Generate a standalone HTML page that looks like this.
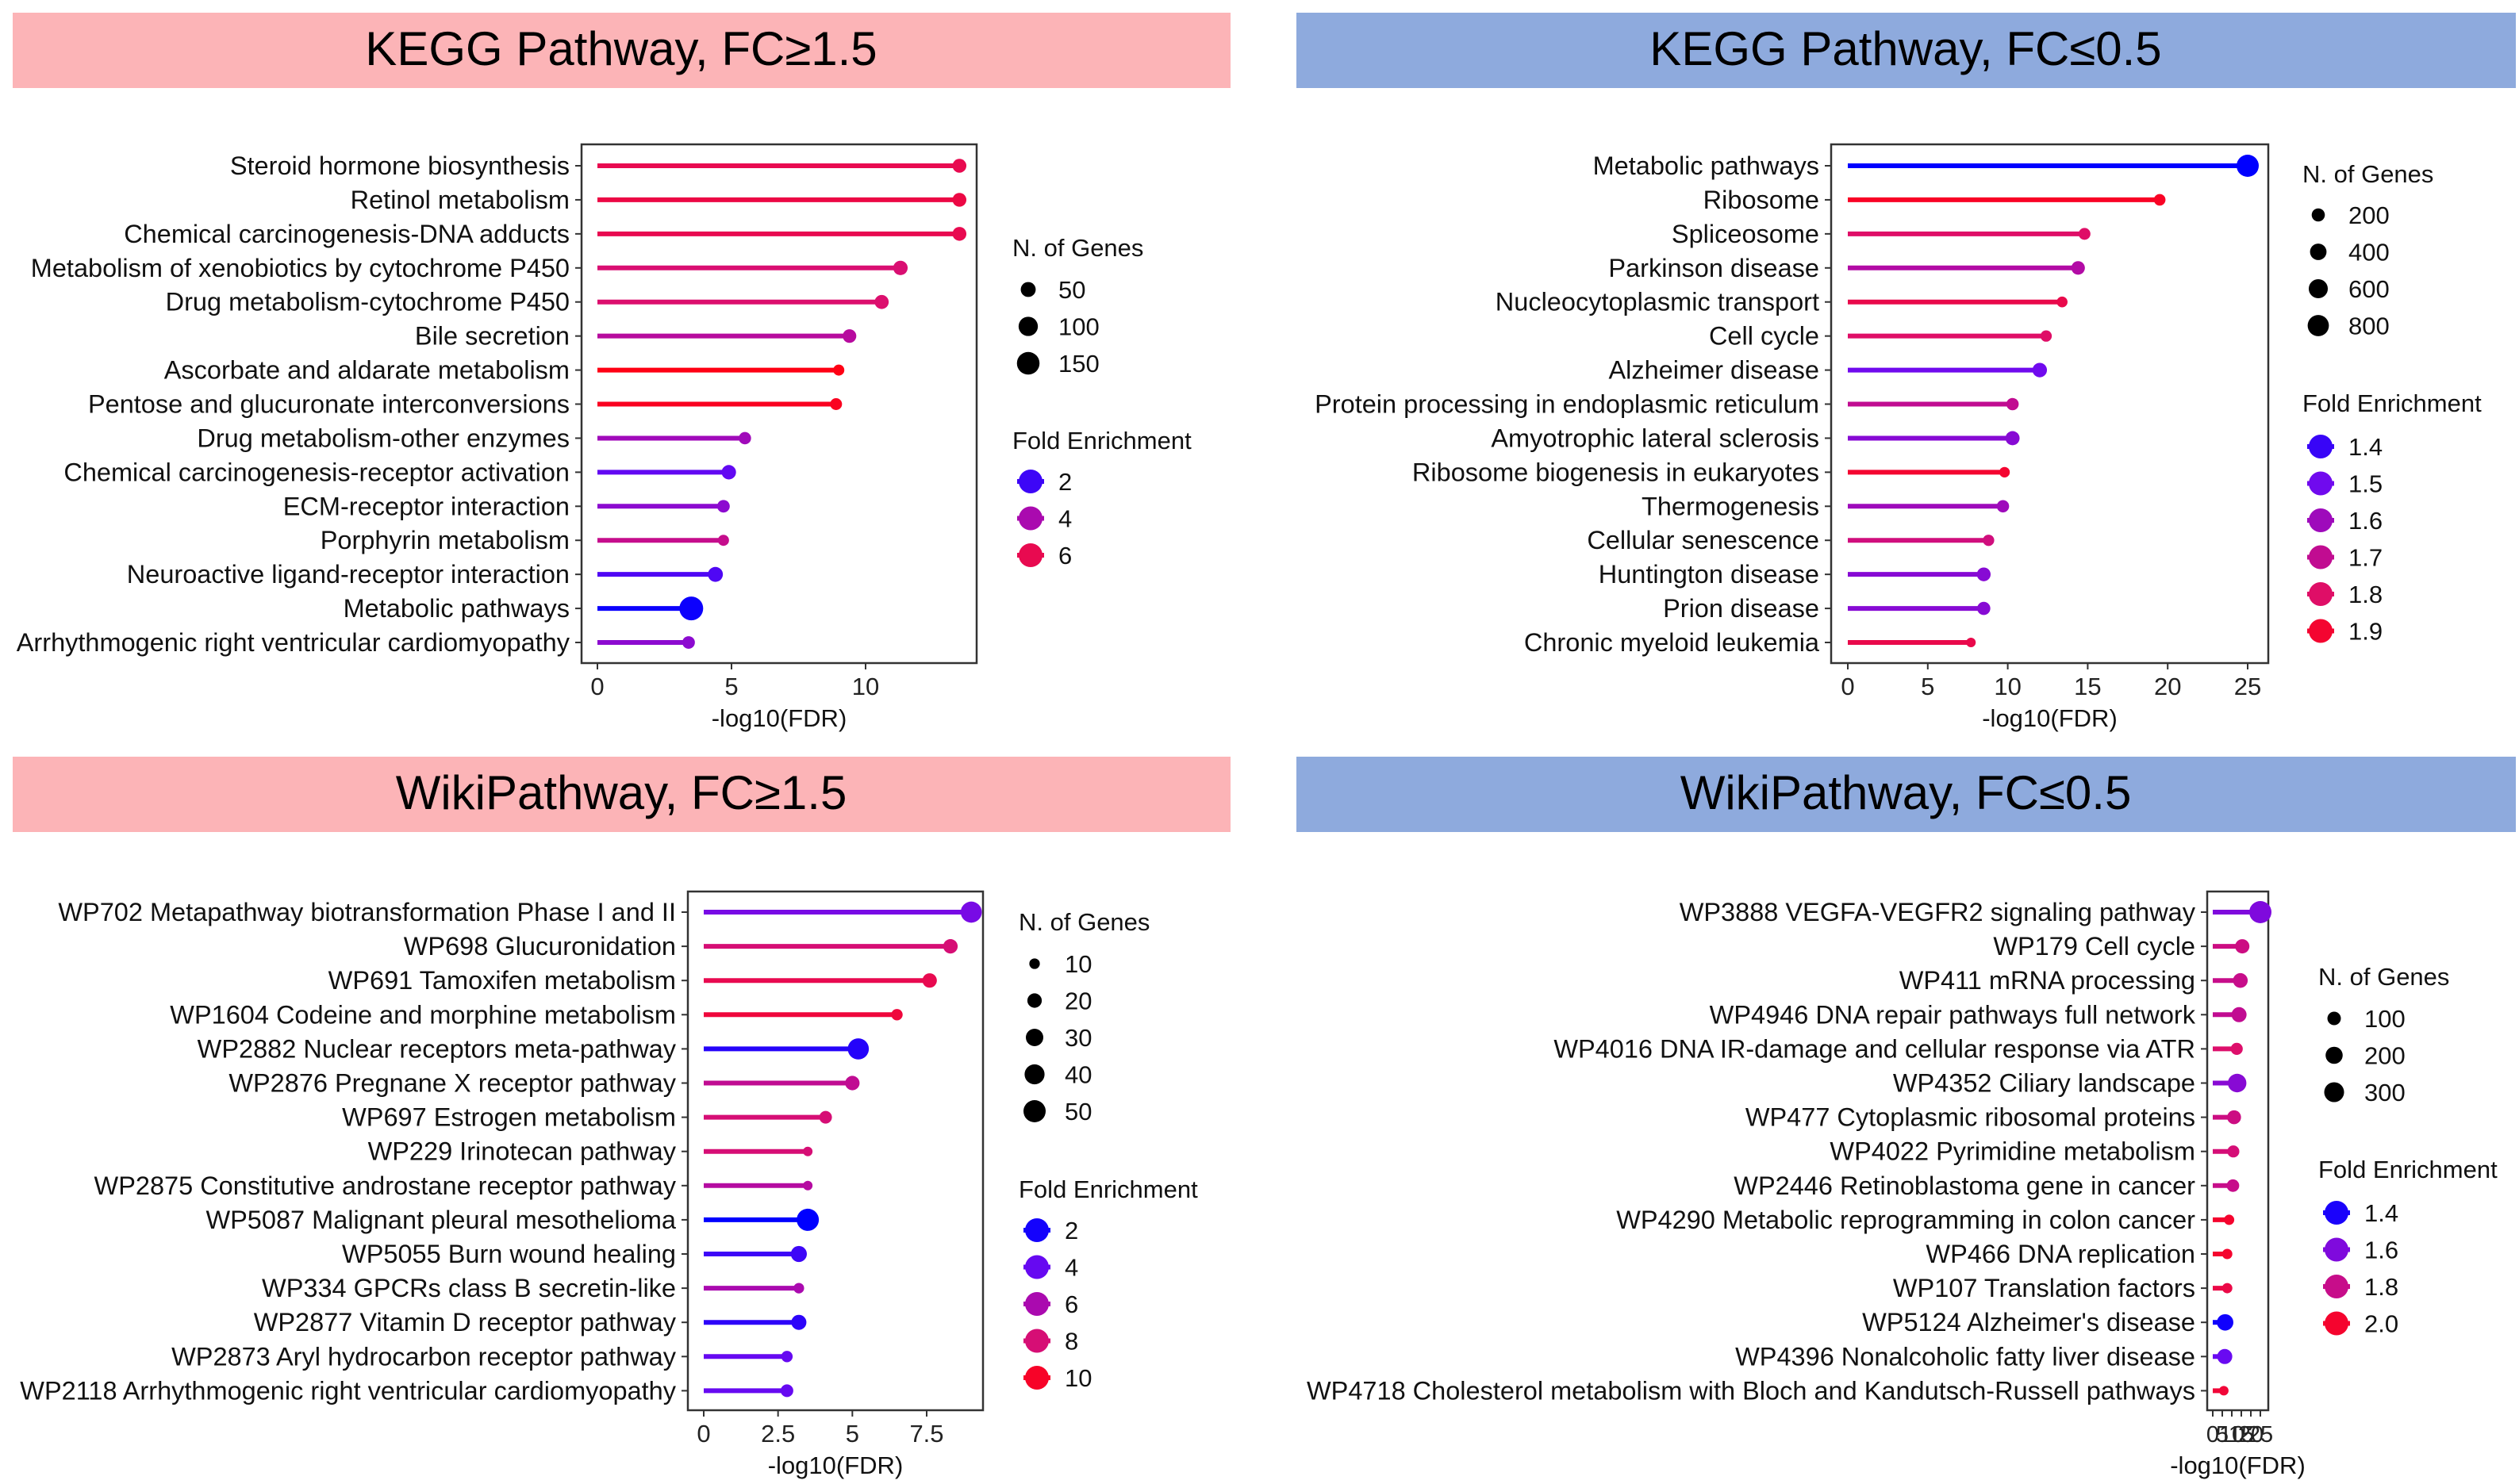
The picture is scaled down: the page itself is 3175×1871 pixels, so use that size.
<!DOCTYPE html>
<html><head><meta charset="utf-8"><style>
html,body{margin:0;padding:0;background:#fff}
svg{display:block;font-family:"Liberation Sans",Arial,sans-serif}
</style></head><body>
<svg id="fig" width="3175" height="1871" viewBox="0 0 3175 1871" xmlns="http://www.w3.org/2000/svg">
<rect x="16" y="16" width="1535" height="95" fill="#fcb4b7"/>
<text x="783" y="82" font-size="60" text-anchor="middle" fill="#000">KEGG Pathway, FC≥1.5</text>
<rect x="1634" y="16" width="1537" height="95" fill="#8eaadd"/>
<text x="2402" y="82" font-size="60" text-anchor="middle" fill="#000">KEGG Pathway, FC≤0.5</text>
<rect x="16" y="954" width="1535" height="95" fill="#fcb4b7"/>
<text x="783" y="1020" font-size="60" text-anchor="middle" fill="#000">WikiPathway, FC≥1.5</text>
<rect x="1634" y="954" width="1537" height="95" fill="#8eaadd"/>
<text x="2402" y="1020" font-size="60" text-anchor="middle" fill="#000">WikiPathway, FC≤0.5</text>
</svg>
<script>
// ---- Panel 1: KEGG up ----
const keggUpCategories = ["Steroid hormone biosynthesis","Retinol metabolism","Chemical carcinogenesis-DNA adducts","Metabolism of xenobiotics by cytochrome P450","Drug metabolism-cytochrome P450","Bile secretion","Ascorbate and aldarate metabolism","Pentose and glucuronate interconversions","Drug metabolism-other enzymes","Chemical carcinogenesis-receptor activation","ECM-receptor interaction","Porphyrin metabolism","Neuroactive ligand-receptor interaction","Metabolic pathways","Arrhythmogenic right ventricular cardiomyopathy"];
const keggUpFDR = [13.5,13.5,13.5,11.3,10.6,9.4,9.0,8.9,5.5,4.9,4.7,4.7,4.4,3.5,3.4];
const keggUpFE = [6.0,6.2,6.0,5.4,5.5,4.4,7.0,6.8,3.8,2.6,3.4,4.8,2.3,1.2,3.4];
const keggUpGenes = [40,40,40,45,42,38,20,25,28,45,30,20,50,170,30];
const keggUpTicks = [0,5,10];
const keggUpSizeLegend = [50,100,150];
const keggUpFELegend = [2,4,6];
// ---- Panel 2: KEGG down ----
const keggDownCategories = ["Metabolic pathways","Ribosome","Spliceosome","Parkinson disease","Nucleocytoplasmic transport","Cell cycle","Alzheimer disease","Protein processing in endoplasmic reticulum","Amyotrophic lateral sclerosis","Ribosome biogenesis in eukaryotes","Thermogenesis","Cellular senescence","Huntington disease","Prion disease","Chronic myeloid leukemia"];
const keggDownFDR = [25.0,19.5,14.8,14.4,13.4,12.4,12.0,10.3,10.3,9.8,9.7,8.8,8.5,8.5,7.7];
const keggDownFE = [1.3,1.92,1.8,1.65,1.85,1.8,1.5,1.7,1.55,1.9,1.6,1.75,1.55,1.55,1.85];
const keggDownGenes = [900,130,140,220,100,120,270,160,250,90,160,120,230,200,60];
const keggDownTicks = [0,5,10,15,20,25];
const keggDownSizeLegend = [200,400,600,800];
const keggDownFELegend = [1.4,1.5,1.6,1.7,1.8,1.9];
// ---- Panel 3: Wiki up ----
const wikiUpCategories = ["WP702 Metapathway biotransformation Phase I and II","WP698 Glucuronidation","WP691 Tamoxifen metabolism","WP1604 Codeine and morphine metabolism","WP2882 Nuclear receptors meta-pathway","WP2876 Pregnane X receptor pathway","WP697 Estrogen metabolism","WP229 Irinotecan pathway","WP2875 Constitutive androstane receptor pathway","WP5087 Malignant pleural mesothelioma","WP5055 Burn wound healing","WP334 GPCRs class B secretin-like","WP2877 Vitamin D receptor pathway","WP2873 Aryl hydrocarbon receptor pathway","WP2118 Arrhythmogenic right ventricular cardiomyopathy"];
const wikiUpFDR = [9.0,8.3,7.6,6.5,5.2,5.0,4.1,3.5,3.5,3.5,3.2,3.2,3.2,2.8,2.8];
const wikiUpFE = [4.5,8.0,9.0,9.5,2.4,7.0,8.0,8.0,6.5,1.5,3.0,6.0,2.6,4.0,4.0];
const wikiUpGenes = [45,20,20,12,45,20,15,8,8,50,25,10,22,12,15];
const wikiUpTicks = [0,2.5,5,7.5];
const wikiUpSizeLegend = [10,20,30,40,50];
const wikiUpFELegend = [2,4,6,8,10];
// ---- Panel 4: Wiki down ----
const wikiDownCategories = ["WP3888 VEGFA-VEGFR2 signaling pathway","WP179 Cell cycle","WP411 mRNA processing","WP4946 DNA repair pathways full network","WP4016 DNA IR-damage and cellular response via ATR","WP4352 Ciliary landscape","WP477 Cytoplasmic ribosomal proteins","WP4022 Pyrimidine metabolism","WP2446 Retinoblastoma gene in cancer","WP4290 Metabolic reprogramming in colon cancer","WP466 DNA replication","WP107 Translation factors","WP5124 Alzheimer's disease","WP4396 Nonalcoholic fatty liver disease","WP4718 Cholesterol metabolism with Bloch and Kandutsch-Russell pathways"];
const wikiDownFDR = [25.0,15.5,14.5,13.8,12.6,12.8,11.2,10.8,10.6,8.6,7.6,7.6,6.5,6.3,5.8];
const wikiDownFE = [1.6,1.82,1.8,1.78,1.88,1.62,1.82,1.85,1.8,2.0,2.0,1.95,1.38,1.55,1.98];
const wikiDownGenes = [400,120,130,140,70,250,110,70,80,40,40,40,180,140,30];
const wikiDownTicks = [0,5,10,15,20,25];
const wikiDownSizeLegend = [100,200,300];
const wikiDownFELegend = [1.4,1.6,1.8,2.0];

const NS = "http://www.w3.org/2000/svg";
const svg = document.getElementById("fig");
function mk(tag, attrs, parent){const e=document.createElementNS(NS,tag);for(const k in attrs)e.setAttribute(k,attrs[k]);(parent||svg).appendChild(e);return e;}
const stops=[[0,[0,0,255]],[0.3,[110,10,240]],[0.5,[170,10,175]],[0.75,[220,15,110]],[1,[255,0,20]]];
function colorAt(t){t=Math.max(0,Math.min(1,t));for(let i=1;i<stops.length;i++){if(t<=stops[i][0]){const a=stops[i-1],b=stops[i];const u=(t-a[0])/(b[0]-a[0]);const c=a[1].map((v,j)=>Math.round(v+(b[1][j]-v)*u));return `rgb(${c[0]},${c[1]},${c[2]})`;}}return "rgb(255,0,20)";}

const LF=32.5, GF=31;
function panel(cfg){
  const g=mk("g",{});
  
  
  const x=v=>cfg.x0+(v-cfg.xmin)/(cfg.xmax-cfg.xmin)*(cfg.x1-cfg.x0);
  const rowY=i=>cfg.yTop+i*cfg.rowStep;
  const col=f=>colorAt((f-cfg.feMin)/(cfg.feMax-cfg.feMin));
  const rad=n=>cfg.rMin+(Math.sqrt(n)-Math.sqrt(cfg.nMin))/(Math.sqrt(cfg.nMax)-Math.sqrt(cfg.nMin))*(cfg.rMax-cfg.rMin);
  const box=mk("rect",{x:cfg.bx0,y:cfg.by0,width:cfg.bx1-cfg.bx0,height:cfg.by1-cfg.by0,fill:"none",stroke:"#333","stroke-width":2.5},g);
  
  
  cfg.cats.forEach((c,i)=>{
    const y=rowY(i);
    const t=mk("text",{x:cfg.bx0-15,y:y+11,"font-size":LF,"text-anchor":"end",fill:"#111"},g);t.textContent=c;
    
    
    mk("line",{x1:cfg.bx0-8,x2:cfg.bx0,y1:y,y2:y,stroke:"#333","stroke-width":2},g);
    const color=col(cfg.fe[i]);
    const ln=mk("line",{x1:x(0),x2:x(cfg.vals[i]),y1:y,y2:y,stroke:color,"stroke-width":6},g);
    
    
    const pt=mk("circle",{cx:x(cfg.vals[i]),cy:y,r:rad(cfg.genes[i]),fill:color},g);
    
    
  });
  cfg.ticks.forEach(v=>{
    mk("line",{x1:x(v),x2:x(v),y1:cfg.by1,y2:cfg.by1+8,stroke:"#333","stroke-width":2},g);
    const t=mk("text",{x:x(v),y:cfg.by1+40,"font-size":cfg.tickFont||31,"text-anchor":"middle",fill:"#222"},g);t.textContent=String(v);
    
    
  });
  const xt=mk("text",{x:(cfg.bx0+cfg.bx1)/2,y:cfg.by1+80,"font-size":GF,"text-anchor":"middle",fill:"#111"},g);xt.textContent="-log10(FDR)";
  
  
  const lt=mk("text",{x:cfg.lx,y:cfg.nTitleY+11,"font-size":GF,fill:"#111"},g);lt.textContent="N. of Genes";
  
  
  cfg.sizeLegend.forEach((n,i)=>{
    const y=cfg.nItemY+i*cfg.legStep;
    const d=mk("circle",{cx:cfg.lx+20,cy:y,r:rad(n),fill:"#000"},g);
    
    
    const t=mk("text",{x:cfg.lx+58,y:y+11,"font-size":GF,fill:"#111"},g);t.textContent=String(n);
    
    
  });
  const ft=mk("text",{x:cfg.lx,y:cfg.fTitleY+11,"font-size":GF,fill:"#111"},g);ft.textContent="Fold Enrichment";
  
  
  cfg.feLegend.forEach((f,i)=>{
    const y=cfg.fItemY+i*cfg.legStep;const c=col(f);
    mk("line",{x1:cfg.lx+6,x2:cfg.lx+40,y1:y,y2:y,stroke:c,"stroke-width":6},g);
    const d=mk("circle",{cx:cfg.lx+23,cy:y,r:15,fill:c},g);
    
    
    const t=mk("text",{x:cfg.lx+58,y:y+11,"font-size":GF,fill:"#111"},g);t.textContent=cfg.feFmt?f.toFixed(1):String(f);
    
    
  });
}
panel({name:"kegg-up-chart",cats:keggUpCategories,vals:keggUpFDR,fe:keggUpFE,genes:keggUpGenes,ticks:keggUpTicks,sizeLegend:keggUpSizeLegend,feLegend:keggUpFELegend,
  bx0:733,bx1:1231,by0:182,by1:836,x0:753,x1:1091,xmin:0,xmax:10,yTop:209,rowStep:42.93,feMin:1,feMax:7,nMin:20,nMax:170,rMin:7,rMax:15,
  lx:1276,nTitleY:312,nItemY:365,legStep:46.5,fTitleY:555,fItemY:607});
panel({name:"kegg-down-chart",cats:keggDownCategories,vals:keggDownFDR,fe:keggDownFE,genes:keggDownGenes,ticks:keggDownTicks,sizeLegend:keggDownSizeLegend,feLegend:keggDownFELegend,feFmt:true,
  bx0:2308,bx1:2859,by0:182,by1:836,x0:2329,x1:2833,xmin:0,xmax:25,yTop:209,rowStep:42.93,feMin:1.3,feMax:1.95,nMin:60,nMax:900,rMin:6,rMax:14,
  lx:2902,nTitleY:219,nItemY:271,legStep:46.5,fTitleY:508,fItemY:563});
panel({name:"wiki-up-chart",cats:wikiUpCategories,vals:wikiUpFDR,fe:wikiUpFE,genes:wikiUpGenes,ticks:wikiUpTicks,sizeLegend:wikiUpSizeLegend,feLegend:wikiUpFELegend,
  bx0:867,bx1:1239,by0:1124,by1:1778,x0:887,x1:1168,xmin:0,xmax:7.5,yTop:1150,rowStep:43.1,feMin:1.5,feMax:10.5,nMin:8,nMax:50,rMin:6,rMax:14,
  lx:1284,nTitleY:1162,nItemY:1215,legStep:46.5,fTitleY:1499,fItemY:1551});
panel({name:"wiki-down-chart",cats:wikiDownCategories,vals:wikiDownFDR,fe:wikiDownFE,genes:wikiDownGenes,ticks:wikiDownTicks,sizeLegend:wikiDownSizeLegend,feLegend:wikiDownFELegend,feFmt:true,tickFont:29,
  bx0:2782,bx1:2859,by0:1124,by1:1778,x0:2789,x1:2849,xmin:0,xmax:25,yTop:1150,rowStep:43.1,feMin:1.35,feMax:2.05,nMin:30,nMax:400,rMin:6,rMax:14,
  lx:2922,nTitleY:1231,nItemY:1284,legStep:46.5,fTitleY:1474,fItemY:1529});
</script>
</body></html>
